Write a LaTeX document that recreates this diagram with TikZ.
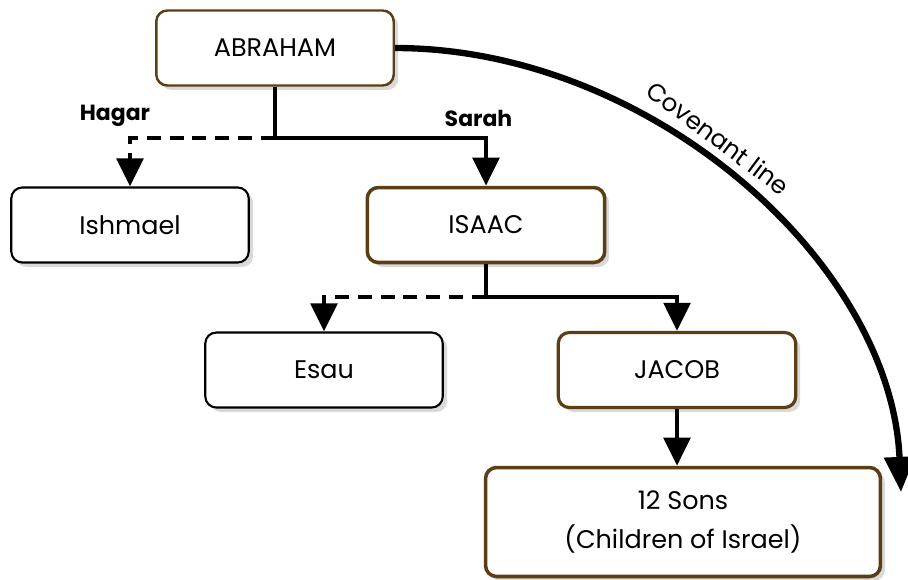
\documentclass[tikz,border=0pt]{standalone}
\usepackage{fontspec}
\setmainfont{Poppins}
\usetikzlibrary{arrows.meta,shadows}
\definecolor{brownline}{RGB}{92,62,22}

\tikzset{
  person/.style={draw=black, line width=1.2pt, rounded corners=0.22cm, fill=white,
    minimum width=4.75cm, minimum height=1.5cm, align=center,
    font=\fontsize{14.5}{22}\selectfont,
    drop shadow={shadow xshift=0.09cm, shadow yshift=-0.09cm, opacity=0.3}},
  heir/.style={person, draw=brownline, line width=2pt},
  link/.style={line width=2.6pt, -{Triangle[length=16pt,width=15pt]}},
  wife/.style={font=\bfseries\fontsize{12.5}{14}\selectfont}
}

\begin{document}
\begin{tikzpicture}[x=0.02cm,y=-0.02cm]
	\useasboundingbox (0,0) rectangle (908,579);

	\node[heir, line width=1.4pt] (abraham) at (275,48) {ABRAHAM};
	\node[person] (ishmael) at (130,225) {Ishmael};
	\node[heir] (isaac) at (486,225) {ISAAC};
	\node[person] (esau) at (324,370) {Esau};
	\node[heir, line width=1.8pt] (jacob) at (677,370) {JACOB};
	\node[heir, minimum width=7.9cm, minimum height=2.18cm] (sons) at (683,522) {12 Sons\\(Children of Israel)};

	\coordinate (abjoin) at (275,138);
	\coordinate (isjoin) at (486,297);
	\coordinate (covend) at (901,492);

	% Abraham's sons
	\draw[link] (abraham.south) -- (abjoin) -| (isaac.north);
	\draw[link, dashed, dash pattern=on 8pt off 5pt] (abjoin) -| (ishmael.north);
	\draw (ishmael.north |- abjoin) node[wife, above=3pt, xshift=-0.3cm] {Hagar};
	\draw (isaac.north |- abjoin) node[wife, above=3pt, xshift=-0.15cm] {Sarah};

	% Isaac's sons
	\draw[link] (isaac.south) -- (isjoin) -| (jacob.north);
	\draw[link, dashed, dash pattern=on 8pt off 5pt] (isjoin) -| (esau.north);

	\draw[link] (jacob.south) -- (jacob.south |- sons.north);

	% covenant line
	\draw[line width=3.6pt, -{Triangle[length=20pt,width=17pt]}] (abraham.east)
		.. controls +(255,0) and +(-10,-230) .. (covend)
		node[pos=0.44, sloped, above=2pt, font=\fontsize{14}{16}\selectfont] {Covenant line};

\end{tikzpicture}
\end{document}
